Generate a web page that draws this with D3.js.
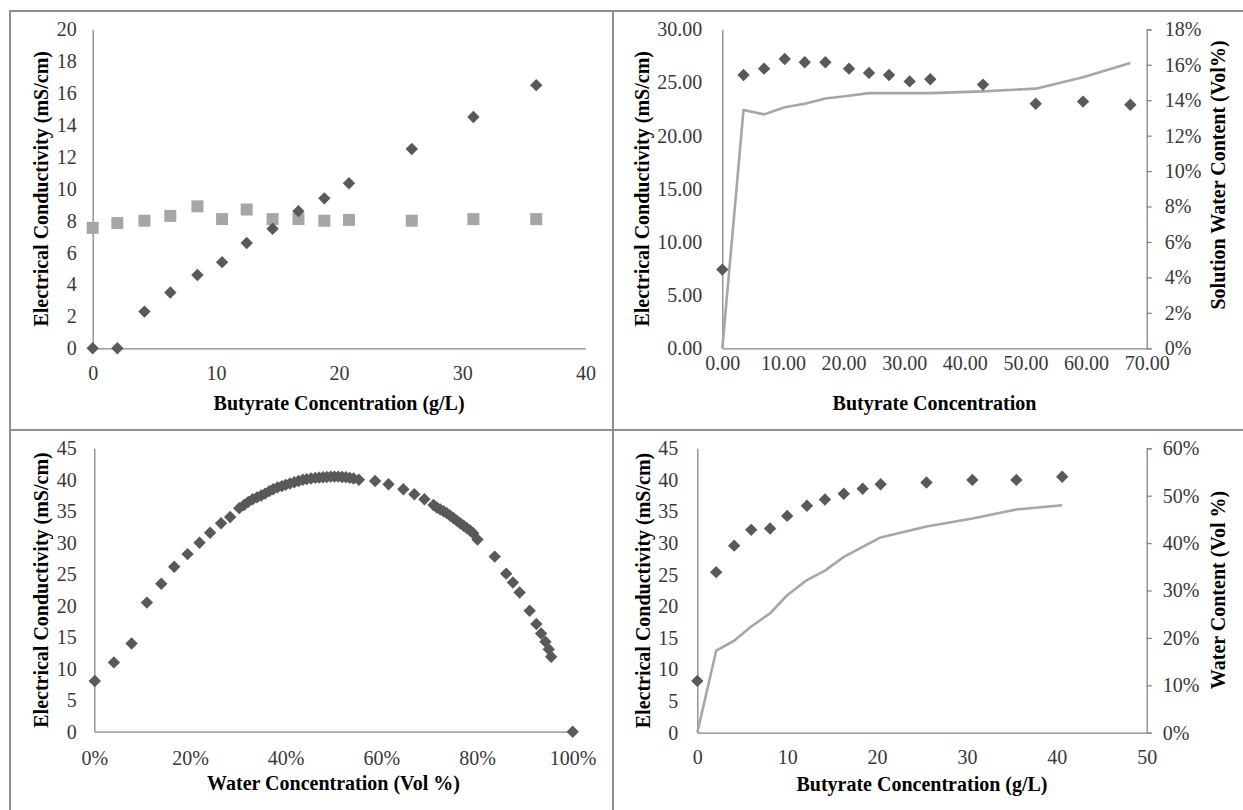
<!DOCTYPE html>
<html><head><meta charset="utf-8">
<script src="https://cdn.jsdelivr.net/npm/d3@7"></script>
<style>
body{margin:0;background:#fff}
svg{display:block}
text{font-family:"Liberation Serif","Times New Roman",serif}
</style>
</head><body>
<svg id="c" width="1243" height="810"></svg>
<script>
// ---------- Panel 1 (top-left) ----------
const p1Butyrate = [0, 2, 4.2, 6.3, 8.5, 10.5, 12.5, 14.6, 16.7, 18.8, 20.8, 25.9, 30.9, 36.0];
const p1ECDiamond = [0, 0, 2.3, 3.5, 4.6, 5.4, 6.6, 7.5, 8.6, 9.4, 10.35, 12.5, 14.5, 16.5];
const p1ECSquare = [7.55, 7.85, 8.0, 8.3, 8.9, 8.1, 8.7, 8.1, 8.1, 8.0, 8.05, 8.0, 8.1, 8.1];
const p1XTicks = [0, 10, 20, 30, 40];
const p1YTicks = [0, 2, 4, 6, 8, 10, 12, 14, 16, 18, 20];

// ---------- Panel 2 (top-right) ----------
const p2Butyrate = [0, 3.5, 6.9, 10.3, 13.6, 17.0, 20.9, 24.2, 27.5, 30.9, 34.3, 43.0, 51.7, 59.5, 67.3];
const p2EC = [7.4, 25.7, 26.3, 27.2, 26.9, 26.9, 26.3, 25.9, 25.7, 25.1, 25.3, 24.8, 23.0, 23.2, 22.9];
const p2Water = [0, 0.1345, 0.132, 0.136, 0.138, 0.141, 0.1425, 0.144, 0.144, 0.144, 0.144, 0.145, 0.1465, 0.153, 0.161];
const p2XTicks = [0, 10, 20, 30, 40, 50, 60, 70];
const p2YTicks = [0, 5, 10, 15, 20, 25, 30];
const p2RTicks = [0, 0.02, 0.04, 0.06, 0.08, 0.10, 0.12, 0.14, 0.16, 0.18];

// ---------- Panel 3 (bottom-left) ----------
const p3Water = [0.001, 0.041, 0.078, 0.110, 0.140, 0.167, 0.195, 0.220, 0.242, 0.265, 0.284, 0.303,
  0.313, 0.322, 0.331, 0.340, 0.349, 0.357, 0.366, 0.374, 0.383, 0.392, 0.400, 0.409, 0.418, 0.427,
  0.436, 0.444, 0.453, 0.462, 0.470, 0.478, 0.486, 0.494, 0.502, 0.510, 0.518, 0.526, 0.534, 0.542, 0.553,
  0.587, 0.615, 0.646, 0.669, 0.690, 0.709, 0.716, 0.723, 0.730, 0.737, 0.744, 0.751, 0.758, 0.765,
  0.772, 0.779, 0.786, 0.792, 0.801, 0.837, 0.861, 0.875, 0.889, 0.910, 0.924, 0.934, 0.943, 0.950, 0.955, 1.000];
const p3EC = [8.05, 11.0, 14.0, 20.5, 23.5, 26.2, 28.2, 30.0, 31.6, 33.1, 34.1, 35.5,
  36.0, 36.5, 36.9, 37.2, 37.5, 37.8, 38.2, 38.5, 38.8, 39.0, 39.2, 39.4, 39.6, 39.8,
  40.0, 40.1, 40.2, 40.3, 40.35, 40.4, 40.45, 40.5, 40.5, 40.5, 40.45, 40.4, 40.3, 40.2, 40.0,
  39.8, 39.3, 38.5, 37.7, 36.9, 36.0, 35.6, 35.3, 35.0, 34.7, 34.3, 33.9, 33.5, 33.1,
  32.7, 32.3, 31.9, 31.5, 30.5, 27.8, 25.1, 23.7, 22.1, 19.2, 17.1, 15.6, 14.3, 13.1, 11.9, 0];
const p3XTicks = [0, 0.2, 0.4, 0.6, 0.8, 1.0];
const p3YTicks = [0, 5, 10, 15, 20, 25, 30, 35, 40, 45];

// ---------- Panel 4 (bottom-right) ----------
const p4Butyrate = [0, 2.1, 4.1, 6.0, 8.1, 10.0, 12.2, 14.2, 16.3, 18.4, 20.4, 25.5, 30.6, 35.5, 40.6];
const p4EC = [8.2, 25.4, 29.6, 32.1, 32.3, 34.3, 35.9, 36.9, 37.8, 38.6, 39.3, 39.6, 40.0, 40.0, 40.5];
const p4Water = [0, 0.173, 0.194, 0.224, 0.252, 0.290, 0.322, 0.342, 0.371, 0.392, 0.412, 0.435, 0.452, 0.471, 0.480];
const p4XTicks = [0, 10, 20, 30, 40, 50];
const p4YTicks = [0, 5, 10, 15, 20, 25, 30, 35, 40, 45];
const p4RTicks = [0, 0.1, 0.2, 0.3, 0.4, 0.5, 0.6];

const DIAMOND = "#595959", SQUARE = "#a6a6a6", LINE = "#a6a6a6", AXIS = "#868686", TICKTXT = "#383838";
const svg = d3.select("#c");

// frame lines (table borders)
svg.append("path")
  .attr("d", "M9,11H1243 M10,11V810 M613,11V810 M10,430H1243")
  .attr("fill", "none").attr("stroke", "#8e8e8e").attr("stroke-width", 2);

const diamondPath = "M0,-6.2L6.2,0L0,6.2L-6.2,0Z";

function styleAxis(sel) {
  sel.select(".domain").attr("stroke", AXIS).attr("stroke-width", 1.3);
  sel.selectAll(".tick line").attr("stroke", AXIS).attr("stroke-width", 1.3);
  sel.selectAll("text").attr("fill", TICKTXT).style("font-size", "20px")
    .style("font-family", '"Liberation Serif","Times New Roman",serif');
}

function panel(o) {
  const x = d3.scaleLinear().domain(o.xDomain).range([o.x0, o.x1]);
  const y = d3.scaleLinear().domain(o.yDomain).range([o.y0, o.y1]);
  const g = svg.append("g");

  g.append("g").attr("transform", `translate(0,${o.y0})`)
    .call(d3.axisBottom(x).tickValues(o.xTicks).tickFormat(o.xFmt).tickSize(0).tickPadding(o.xPad))
    .call(styleAxis);
  g.append("g").attr("transform", `translate(${o.x0},0)`)
    .call(d3.axisLeft(y).tickValues(o.yTicks).tickFormat(o.yFmt).tickSize(0).tickPadding(o.yPad))
    .call(styleAxis);

  let yR = null;
  if (o.rDomain) {
    yR = d3.scaleLinear().domain(o.rDomain).range([o.y0, o.y1]);
    g.append("g").attr("transform", `translate(${o.x1},0)`)
      .call(d3.axisRight(yR).tickValues(o.rTicks).tickFormat(d3.format(".0%")).tickSize(5).tickPadding(o.rPad))
      .call(styleAxis);
  }

  // line series (right axis)
  if (o.line) {
    g.append("path")
      .datum(o.line.x.map((v, i) => [v, o.line.y[i]]))
      .attr("fill", "none").attr("stroke", LINE).attr("stroke-width", 2.6)
      .attr("stroke-linejoin", "round")
      .attr("d", d3.line().x(d => x(d[0])).y(d => yR(d[1])));
  }
  // square series
  if (o.squares) {
    g.selectAll(null).data(o.squares.x.map((v, i) => [v, o.squares.y[i]]))
      .enter().append("rect")
      .attr("x", d => x(d[0]) - 6).attr("y", d => y(d[1]) - 6)
      .attr("width", 12).attr("height", 12).attr("fill", SQUARE);
  }
  // diamond series
  g.selectAll(null).data(o.diamonds.x.map((v, i) => [v, o.diamonds.y[i]]))
    .enter().append("path")
    .attr("d", diamondPath)
    .attr("transform", d => `translate(${x(d[0])},${y(d[1])})`)
    .attr("fill", DIAMOND);

  // titles
  g.append("text").attr("x", (o.x0 + o.x1) / 2).attr("y", o.xTitleY)
    .attr("text-anchor", "middle").style("font-size", "20px").style("font-weight", "bold")
    .attr("fill", "#000").text(o.xTitle);
  g.append("text").attr("transform", `translate(${o.yTitleX},${(o.y0 + o.y1) / 2}) rotate(-90)`)
    .attr("dy", "0.33em").attr("text-anchor", "middle").style("font-size", "20px").style("font-weight", "bold")
    .attr("fill", "#000").text(o.yTitle);
  if (o.rTitle) {
    g.append("text").attr("transform", `translate(${o.rTitleX},${o.rTitleCY}) rotate(-90)`)
      .attr("dy", "0.33em").attr("text-anchor", "middle").style("font-size", "20px").style("font-weight", "bold")
      .attr("fill", "#000").text(o.rTitle);
  }
}

panel({
  x0: 92.7, x1: 585.5, y0: 348.3, y1: 29.3,
  xDomain: [0, 40], yDomain: [0, 20],
  xTicks: p1XTicks, yTicks: p1YTicks, xFmt: d3.format("d"), yFmt: d3.format("d"),
  xPad: 18, yPad: 16,
  diamonds: { x: p1Butyrate, y: p1ECDiamond },
  squares: { x: p1Butyrate, y: p1ECSquare },
  xTitle: "Butyrate Concentration  (g/L)", xTitleY: 410,
  yTitle: "Electrical Conductivity  (mS/cm)", yTitleX: 41.5
});

panel({
  x0: 722.3, x1: 1146.7, y0: 348.3, y1: 29.3,
  xDomain: [0, 70], yDomain: [0, 30],
  xTicks: p2XTicks, yTicks: p2YTicks, xFmt: d3.format(".2f"), yFmt: d3.format(".2f"),
  xPad: 8, yPad: 20,
  rDomain: [0, 0.18], rTicks: p2RTicks, rPad: 13,
  diamonds: { x: p2Butyrate, y: p2EC },
  line: { x: p2Butyrate, y: p2Water },
  xTitle: "Butyrate Concentration", xTitleY: 410,
  yTitle: "Electrical Conductivity  (mS/cm)", yTitleX: 642,
  rTitle: "Solution Water Content (Vol%)", rTitleX: 1218, rTitleCY: 175
});

panel({
  x0: 94.3, x1: 572.7, y0: 731.7, y1: 448.3,
  xDomain: [0, 1], yDomain: [0, 45],
  xTicks: p3XTicks, yTicks: p3YTicks, xFmt: d3.format(".0%"), yFmt: d3.format("d"),
  xPad: 19, yPad: 17.5,
  diamonds: { x: p3Water, y: p3EC },
  xTitle: "Water Concentration  (Vol %)", xTitleY: 790,
  yTitle: "Electrical Conductivity  (mS/cm)", yTitleX: 41.5
});

panel({
  x0: 697.3, x1: 1146.7, y0: 732.7, y1: 448.3,
  xDomain: [0, 50], yDomain: [0, 45],
  xTicks: p4XTicks, yTicks: p4YTicks, xFmt: d3.format("d"), yFmt: d3.format("d"),
  xPad: 17, yPad: 19,
  rDomain: [0, 0.6], rTicks: p4RTicks, rPad: 11,
  diamonds: { x: p4Butyrate, y: p4EC },
  line: { x: p4Butyrate, y: p4Water },
  xTitle: "Butyrate Concentration  (g/L)", xTitleY: 791,
  yTitle: "Electrical Conductivity  (mS/cm)", yTitleX: 643,
  rTitle: "Water Content (Vol %)", rTitleX: 1218, rTitleCY: 590
});
</script>
</body></html>
